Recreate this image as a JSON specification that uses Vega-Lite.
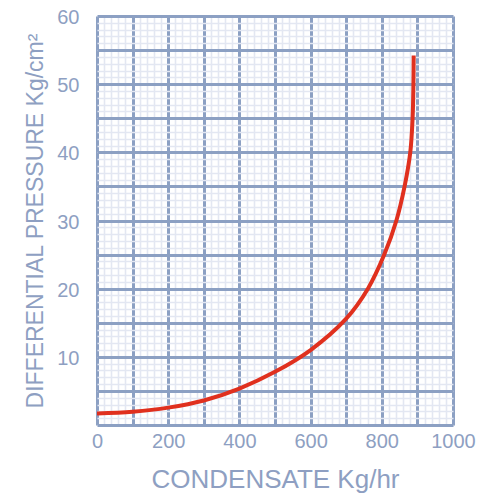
{
  "$schema": "https://vega.github.io/schema/vega-lite/v6.json",
  "width": 356,
  "height": 409,
  "autosize": {"type": "none"},
  "padding": {"left": 97, "top": 16, "right": 42, "bottom": 69},
  "background": "white",
  "config": {"view": {"stroke": null}, "font": "Liberation Sans"},
  "data": {
    "values": [
      {"condensate": 0, "pressure": 1.7},
      {"condensate": 100, "pressure": 1.95},
      {"condensate": 200, "pressure": 2.55},
      {"condensate": 300, "pressure": 3.6},
      {"condensate": 400, "pressure": 5.35},
      {"condensate": 500, "pressure": 7.8},
      {"condensate": 600, "pressure": 11.0},
      {"condensate": 700, "pressure": 15.6},
      {"condensate": 761, "pressure": 20},
      {"condensate": 807, "pressure": 25},
      {"condensate": 841, "pressure": 30},
      {"condensate": 864, "pressure": 35},
      {"condensate": 880, "pressure": 40},
      {"condensate": 886.5, "pressure": 45},
      {"condensate": 888.8, "pressure": 50},
      {"condensate": 889.5, "pressure": 54.2}
    ]
  },
  "layer": [
    {
      "mark": {"type": "line", "color": "#e0301e", "strokeWidth": 4, "interpolate": "catmull-rom"},
      "encoding": {
        "x": {
          "field": "condensate", "type": "quantitative",
          "scale": {"domain": [0, 1000], "nice": false},
          "axis": {
            "orient": "bottom", "values": [0, 200, 400, 600, 800, 1000], "format": "d",
            "grid": false, "domain": false, "ticks": false, "tickSize": 0,
            "labelPadding": 22, "labelBaseline": "alphabetic", "labelFontSize": 20,
            "labelColor": "#8e9fc2", "labelFlush": false, "labelFont": "Liberation Sans",
            "title": "CONDENSATE Kg/hr", "titleFont": "Liberation Sans", "titleFontSize": 26,
            "titleFontWeight": "normal", "titleColor": "#8e9fc2",
            "titleX": 178, "titleY": 62, "titleBaseline": "alphabetic", "titleAlign": "center"
          }
        },
        "y": {
          "field": "pressure", "type": "quantitative",
          "scale": {"domain": [0, 60], "nice": false},
          "axis": {
            "orient": "left", "values": [10, 20, 30, 40, 50, 60], "format": "d",
            "grid": false, "domain": false, "ticks": false, "tickSize": 0,
            "labelPadding": 18, "labelBaseline": "middle", "labelAlign": "right", "labelFontSize": 20,
            "labelOffset": 1.5,
            "labelColor": "#8e9fc2", "labelFont": "Liberation Sans",
            "title": "DIFFERENTIAL PRESSURE Kg/cm²", "titleFont": "Liberation Sans", "titleFontSize": 23,
            "titleFontWeight": "normal", "titleColor": "#8e9fc2", "titleAngle": 270,
            "titleX": -55, "titleY": 204.5, "titleBaseline": "alphabetic", "titleAlign": "center"
          }
        }
      }
    },
    {
      "mark": {"type": "line", "strokeOpacity": 0},
      "encoding": {
        "x": {
          "field": "condensate", "type": "quantitative",
          "axis": {
            "orient": "top",
            "values": [0, 20, 40, 60, 80, 100, 120, 140, 160, 180, 200, 220, 240, 260, 280, 300, 320, 340, 360, 380, 400, 420, 440, 460, 480, 500, 520, 540, 560, 580, 600, 620, 640, 660, 680, 700, 720, 740, 760, 780, 800, 820, 840, 860, 880, 900, 920, 940, 960, 980, 1000],
            "grid": true, "gridColor": "#e3e7f2", "gridWidth": 1.6, "gridOpacity": 1,
            "domain": false, "ticks": false, "labels": false, "title": null
          }
        },
        "y": {
          "field": "pressure", "type": "quantitative",
          "axis": {
            "orient": "right",
            "values": [0, 1, 2, 3, 4, 5, 6, 7, 8, 9, 10, 11, 12, 13, 14, 15, 16, 17, 18, 19, 20, 21, 22, 23, 24, 25, 26, 27, 28, 29, 30, 31, 32, 33, 34, 35, 36, 37, 38, 39, 40, 41, 42, 43, 44, 45, 46, 47, 48, 49, 50, 51, 52, 53, 54, 55, 56, 57, 58, 59, 60],
            "grid": true, "gridColor": "#e3e7f2", "gridWidth": 1.6, "gridOpacity": 1,
            "domain": false, "ticks": false, "labels": false, "title": null
          }
        }
      }
    },
    {
      "mark": {"type": "line", "strokeOpacity": 0},
      "encoding": {
        "x": {
          "field": "condensate", "type": "quantitative",
          "axis": {
            "orient": "top",
            "values": [0, 100, 200, 300, 400, 500, 600, 700, 800, 900, 1000],
            "grid": true, "gridColor": "#8ca0c3", "gridWidth": 3, "gridOpacity": 1,
            "domain": false, "ticks": false, "labels": false, "title": null
          }
        },
        "y": {
          "field": "pressure", "type": "quantitative",
          "axis": {
            "orient": "right",
            "values": [0, 5, 10, 15, 20, 25, 30, 35, 40, 45, 50, 55, 60],
            "grid": true, "gridColor": "#8ca0c3", "gridWidth": 3, "gridOpacity": 1,
            "domain": false, "ticks": false, "labels": false, "title": null
          }
        }
      }
    }
  ],
  "resolve": {"axis": {"x": "independent", "y": "independent"}}
}
